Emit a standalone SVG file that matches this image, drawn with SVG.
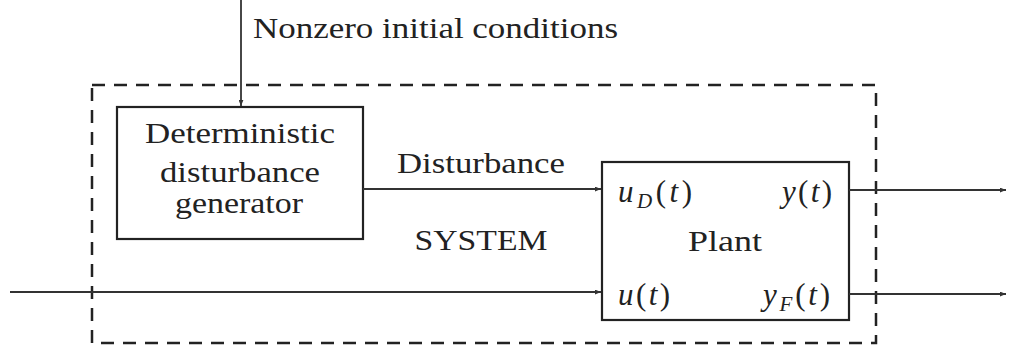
<svg xmlns="http://www.w3.org/2000/svg" width="1009" height="351" viewBox="0 0 1009 351">
<style>
.box{fill:none;stroke:#222;stroke-width:2.2}
.dash{fill:none;stroke:#222;stroke-width:2.5;stroke-dasharray:13 9}
.ln{fill:none;stroke:#333;stroke-width:1.8}
text{font-family:"Liberation Serif","Times New Roman",serif;font-size:29px;fill:#222}
.it{font-style:italic;font-size:31px}
.c{text-anchor:middle}
</style>
<defs>
<marker id="ah" viewBox="0 0 10 8" refX="10" refY="4" markerWidth="6" markerHeight="5" orient="auto" markerUnits="userSpaceOnUse">
<path d="M0,0 L10,4 L0,8 z" fill="#333"/>
</marker>
</defs>
<rect x="0" y="0" width="1009" height="351" fill="#fff"/>
<g id="system">
<rect class="dash" x="92" y="85" width="784" height="258"/>
<text x="481" y="250" class="c" textLength="133" lengthAdjust="spacingAndGlyphs">SYSTEM</text>
</g>
<g id="generator">
<rect class="box" x="117" y="107" width="246" height="132"/>
<text x="240" y="143" class="c" textLength="190" lengthAdjust="spacingAndGlyphs">Deterministic</text>
<text x="240" y="182" class="c" textLength="160" lengthAdjust="spacingAndGlyphs">disturbance</text>
<text x="239" y="213" class="c" textLength="128" lengthAdjust="spacingAndGlyphs">generator</text>
</g>
<g id="plant">
<rect class="box" x="602" y="162" width="247" height="158"/>
<text x="725" y="251" class="c" textLength="74" lengthAdjust="spacingAndGlyphs">Plant</text>
<text x="618" y="202" class="it" textLength="74">u<tspan font-size="21" dy="6">D</tspan><tspan font-style="normal" dy="-6">(</tspan>t<tspan font-style="normal">)</tspan></text>
<text x="782" y="202" class="it" textLength="50">y<tspan font-style="normal">(</tspan>t<tspan font-style="normal">)</tspan></text>
<text x="618" y="305" class="it" textLength="52">u<tspan font-style="normal">(</tspan>t<tspan font-style="normal">)</tspan></text>
<text x="763" y="305" class="it" textLength="67">y<tspan font-size="21" dy="6">F</tspan><tspan font-style="normal" dy="-6">(</tspan>t<tspan font-style="normal">)</tspan></text>
</g>
<g id="labels">
<text x="253" y="38" textLength="365" lengthAdjust="spacingAndGlyphs">Nonzero initial conditions</text>
<text x="481" y="173" class="c" textLength="168" lengthAdjust="spacingAndGlyphs">Disturbance</text>
</g>
<g id="connectors">
<line class="ln" x1="241" y1="0" x2="241" y2="106" marker-end="url(#ah)"/>
<line class="ln" x1="363" y1="189" x2="601" y2="189" marker-end="url(#ah)"/>
<line class="ln" x1="10" y1="292" x2="601" y2="292" marker-end="url(#ah)"/>
<line class="ln" x1="849" y1="190" x2="1006" y2="190" marker-end="url(#ah)"/>
<line class="ln" x1="849" y1="294" x2="1006" y2="294" marker-end="url(#ah)"/>
</g>
</svg>
